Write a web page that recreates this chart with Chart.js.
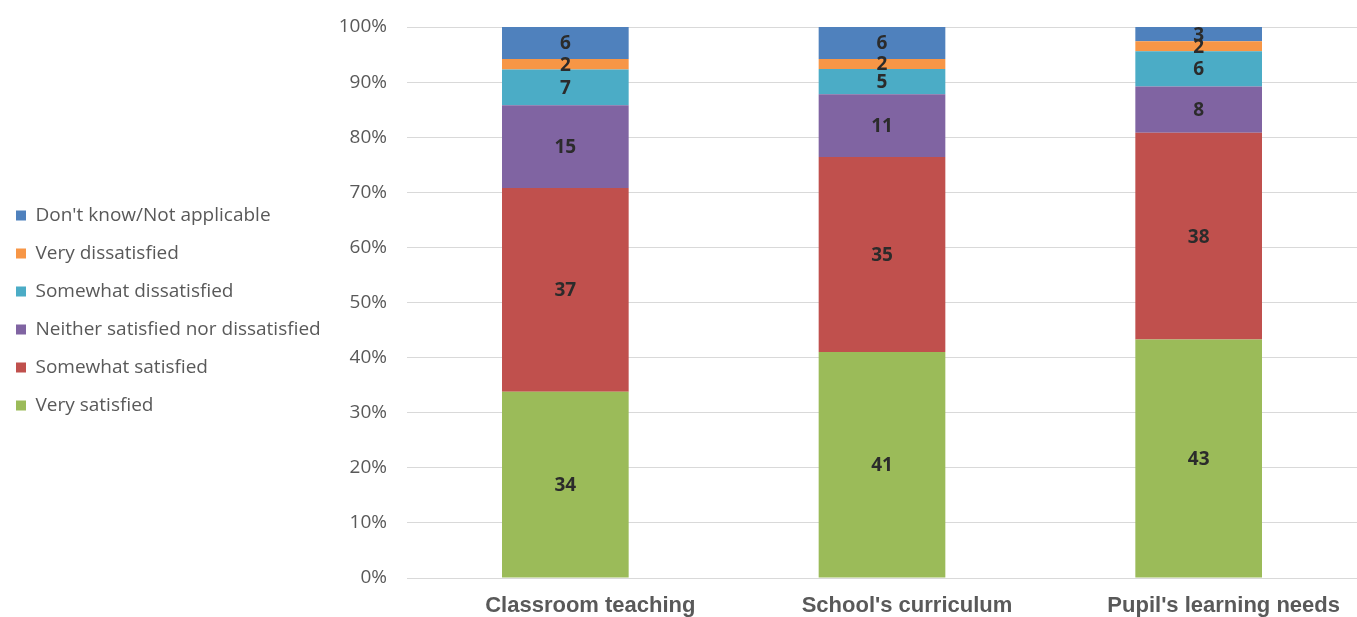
<!DOCTYPE html>
<html>
<head>
<meta charset="utf-8">
<script src="https://cdn.jsdelivr.net/npm/chart.js@4"></script>
<style>
  html, body { margin: 0; padding: 0; background: #fff; }
  #wrap { width: 1357px; height: 617px; }
</style>
</head>
<body>
<div id="wrap"><canvas id="c" width="1357" height="617"></canvas></div>
<script>
const categories = ["Classroom teaching", "School's curriculum", "Pupil's learning needs"];
const seriesNames = ["Very satisfied", "Somewhat satisfied", "Neither satisfied nor dissatisfied", "Somewhat dissatisfied", "Very dissatisfied", "Don't know/Not applicable"];
const verySatisfied = [33.8, 41.0, 43.3];
const somewhatSatisfied = [37.0, 35.4, 37.5];
const neither = [15.0, 11.4, 8.4];
const somewhatDissatisfied = [6.5, 4.6, 6.4];
const veryDissatisfied = [1.9, 1.8, 1.8];
const dontKnow = [5.8, 5.8, 2.6];
const seriesColors = ["#9BBB59", "#C0504D", "#8064A2", "#4BACC6", "#F79646", "#4F81BD"];
const yTicks = [0, 10, 20, 30, 40, 50, 60, 70, 80, 90, 100];

const seriesValues = [verySatisfied, somewhatSatisfied, neither, somewhatDissatisfied, veryDissatisfied, dontKnow];

const PAD_LEFT = -3;
const PAD_TOP = 27;
const PLOT_LEFT = 407;
const PLOT_BOTTOM = 578;
const LEGEND_SHIFT = 23;

const barLabels = {
  id: 'barLabels',
  afterDatasetsDraw(chart) {
    const ctx = chart.ctx;
    ctx.save();
    ctx.font = 'bold 19px "Open Sans", "Liberation Sans", sans-serif';
    ctx.fillStyle = '#2b2b2b';
    ctx.textAlign = 'center';
    ctx.textBaseline = 'middle';
    chart.data.datasets.forEach((ds, di) => {
      const meta = chart.getDatasetMeta(di);
      meta.data.forEach((bar, i) => {
        const v = ds.data[i];
        const cy = (bar.y + bar.base) / 2;
        ctx.fillText(String(Math.round(v)), bar.x, cy + 1);
      });
    });
    ctx.restore();
  }
};

const legendNudge = {
  id: 'legendNudge',
  beforeDraw(chart) {
    const lg = chart.legend;
    if (lg && !lg._nudged) {
      lg.bottom -= LEGEND_SHIFT;
      lg.height -= LEGEND_SHIFT;
      lg._nudged = true;
    }
  }
};

new Chart(document.getElementById('c'), {
  type: 'bar',
  data: {
    labels: categories,
    datasets: seriesNames.map((name, i) => ({
      label: name,
      data: seriesValues[i],
      backgroundColor: seriesColors[i],
      borderWidth: 0,
      categoryPercentage: 1.0,
      barPercentage: 0.4
    }))
  },
  options: {
    responsive: false,
    animation: false,
    devicePixelRatio: 1,
    layout: { padding: { left: PAD_LEFT, right: 0, top: PAD_TOP, bottom: 0 } },
    plugins: {
      tooltip: { enabled: false },
      legend: {
        position: 'left',
        reverse: true,
        labels: {
          boxWidth: 10,
          boxHeight: 10,
          padding: 19,
          color: '#595959',
          font: { family: '"Open Sans", "Liberation Sans", sans-serif', size: 19 }
        }
      }
    },
    scales: {
      x: {
        stacked: true,
        grid: { display: false, drawTicks: false },
        border: { display: false },
        afterFit(scale) { scale.height = 617 - PLOT_BOTTOM; scale.paddingLeft = 0; scale.paddingRight = 0; },
        ticks: {
          color: '#595959',
          padding: 15,
          labelOffset: 25,
          font: { family: '"Liberation Sans", sans-serif', size: 22, weight: 'bold' }
        }
      },
      y: {
        stacked: true,
        min: 0,
        max: 100,
        afterBuildTicks(scale) { scale.ticks = yTicks.map(v => ({ value: v })); },
        afterFit(scale) {
          const lg = scale.chart.legend;
          const lw = lg && lg.width ? lg.width : 0;
          scale.width = PLOT_LEFT - PAD_LEFT - lw;
          scale.paddingTop = 0;
          scale.paddingBottom = 0;
        },
        grid: { color: '#D9D9D9', lineWidth: 1, drawTicks: false },
        border: { display: false },
        ticks: {
          color: '#595959',
          padding: 20,
          font: { family: '"Open Sans", "Liberation Sans", sans-serif', size: 19 },
          callback: (v) => v + '%'
        }
      }
    }
  },
  plugins: [barLabels, legendNudge]
});
</script>
</body>
</html>
